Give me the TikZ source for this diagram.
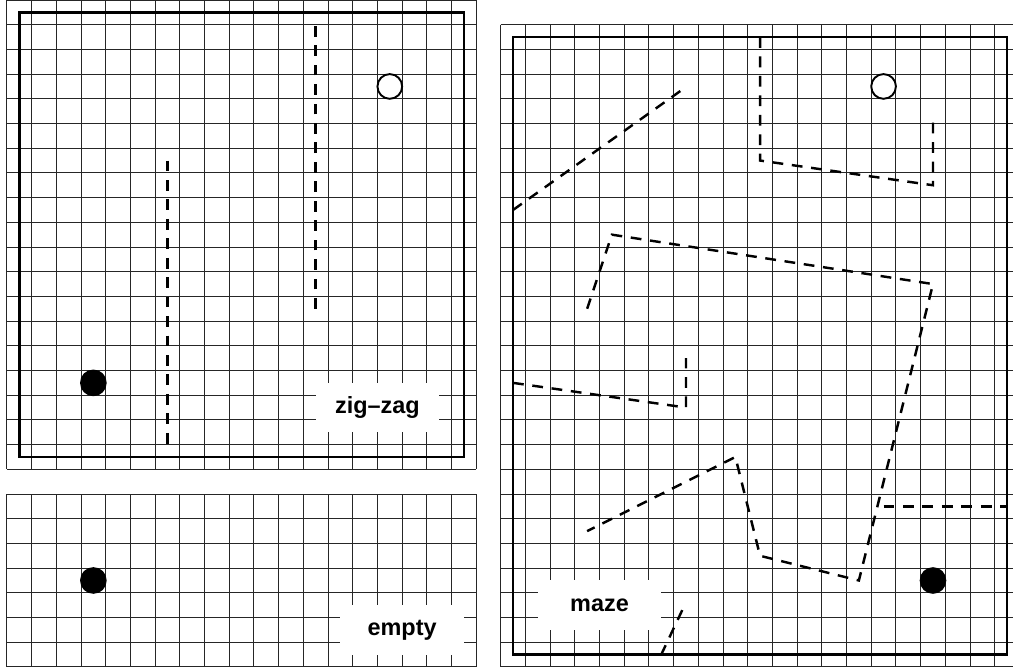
\documentclass[tikz,border=0pt]{standalone}
\usepackage{fontspec}
\setmainfont{Liberation Sans}

\tikzset{
  gridline/.style={line width=0.55pt, black!85},
  border/.style={line width=1.5pt},
  wall/.style={line width=1.4pt, dash pattern=on 6.2pt off 5pt},
  ball/.style={circle, draw, line width=1.1pt, fill=black, minimum size=0.5cm, inner sep=0pt},
  goal/.style={circle, draw, line width=1.1pt, fill=white, minimum size=0.5cm, inner sep=0pt},
  tag/.style={fill=white, minimum width=2.5cm, minimum height=1cm, inner sep=0pt,
    font=\bfseries\fontsize{13.5}{16}\selectfont},
}

\begin{document}
\begin{tikzpicture}[x=0.5cm, y=-0.5cm]
  \useasboundingbox (0,0) rectangle (41.01,27.126);

  % zig-zag
  \begin{scope}[shift={(0.28,0)}]
    \foreach \i in {0,...,19} {
      \draw[gridline] (\i,0) -- (\i,19);
      \draw[gridline] (0,\i) -- (19,\i);
    }
    \node[tag] (zigzag) at (15,16.5) {zig--zag};
    \draw[border] (0.5,0.5) rectangle (18.5,18.5);
    \draw[wall] (6.5,6.5) -- (6.5,18.1);
    \draw[wall] (12.5,12.5) -- (12.5,0.9);
    \node[ball] (startA) at (3.5,15.5) {};
    \node[goal] (goalA) at (15.5,3.5) {};
  \end{scope}

  % empty
  \begin{scope}[shift={(0.28,20)}]
    \foreach \i in {0,...,19}
      \draw[gridline] (\i,0) -- (\i,7);
    \foreach \j in {0,...,7}
      \draw[gridline] (0,\j) -- (19,\j);
    \node[tag] (emptylab) at (16,5.5) {empty};
    \node[ball] (startB) at (3.5,3.5) {};
  \end{scope}

  % maze
  \begin{scope}[shift={(20.27,1)}]
    \foreach \i in {0,...,21}
      \draw[gridline] (\i,0) -- (\i,26);
    \foreach \j in {0,...,26}
      \draw[gridline] (0,\j) -- (21,\j);
    \node[tag] (mazelab) at (4,23.5) {maze};
    \draw[border] (0.5,0.5) rectangle (20.5,25.5);
    \draw[wall] (0.5,7.5) -- (7.35,2.63);
    \draw[wall] (10.5,0.5) -- (10.5,5.5) -- (17.5,6.5) -- (17.5,3.8);
    \draw[wall] (3.5,11.5) -- (4.5,8.5) -- (17.5,10.5) -- (14.5,22.5)
      -- (10.5,21.5) -- (9.5,17.5) -- (3.5,20.5);
    \draw[wall] (15.5,19.5) -- (20.5,19.5);
    \draw[wall] (0.5,14.5) -- (7.5,15.5) -- (7.5,13.5);
    \draw[wall] (7.35,23.7) -- (6.5,25.5);
    \node[ball] (startC) at (17.5,22.5) {};
    \node[goal] (goalC) at (15.5,2.5) {};
  \end{scope}
\end{tikzpicture}
\end{document}
